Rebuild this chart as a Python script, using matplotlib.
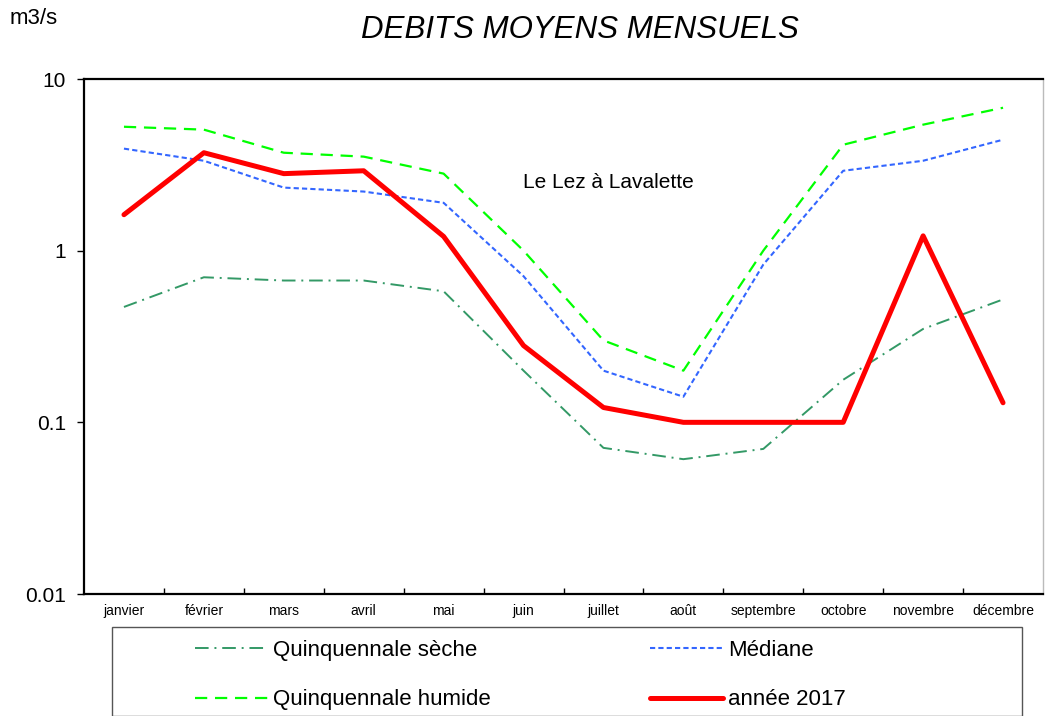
import matplotlib
matplotlib.use('Agg')
import matplotlib.pyplot as plt
from matplotlib.patches import Rectangle

plt.rcParams['font.family'] = ['Liberation Sans', 'DejaVu Sans']

mois = ['janvier', 'février', 'mars', 'avril', 'mai', 'juin', 'juillet',
        'août', 'septembre', 'octobre', 'novembre', 'décembre']

# debits en m3/s
seche = [0.47, 0.70, 0.67, 0.67, 0.58, 0.20, 0.071, 0.061, 0.07, 0.177, 0.35, 0.52]
mediane = [3.93, 3.34, 2.33, 2.21, 1.90, 0.71, 0.20, 0.141, 0.83, 2.92, 3.34, 4.43]
humide = [5.27, 5.07, 3.72, 3.53, 2.81, 1.00, 0.30, 0.20, 1.00, 4.14, 5.42, 6.80]
annee_2017 = [1.62, 3.72, 2.81, 2.92, 1.21, 0.28, 0.122, 0.10, 0.10, 0.10, 1.22, 0.13]

y_ticks = [0.01, 0.1, 1, 10]
y_labels = ['0.01', '0.1', '1', '10']

fig = plt.figure(figsize=(10.45, 7.16), dpi=100)
ax = fig.add_axes([84 / 1045, 1 - 594 / 716, (1043 - 84) / 1045, (594 - 79) / 716])

x = range(len(mois))
l_seche, = ax.plot(x, seche, color='#339966', lw=1.4, dashes=(7, 3, 1, 3),
                   label='Quinquennale sèche')
l_med, = ax.plot(x, mediane, color='#3366FF', lw=1.5, dashes=(2.5, 1.5),
                 label='Médiane')
l_hum, = ax.plot(x, humide, color='#00FF00', lw=1.6, dashes=(5.5, 3.5),
                 label='Quinquennale humide')
l_2017, = ax.plot(x, annee_2017, color='#FF0000', lw=3.6,
                  solid_capstyle='round', solid_joinstyle='round', label='année 2017')

ax.set_yscale('log')
ax.set_ylim(0.01, 10)
ax.set_xlim(-0.5, len(mois) - 0.5)
ax.set_yticks(y_ticks)
ax.set_yticklabels(y_labels, fontsize=15)
ax.yaxis.set_minor_locator(plt.NullLocator())
ax.tick_params(axis='y', length=5, width=1, direction='out', pad=8)

ax.set_xticks(list(x))
ax.set_xticklabels(mois, fontsize=10)
ax.set_xticks([i + 0.5 for i in range(len(mois) - 1)], minor=True)
ax.tick_params(axis='x', which='major', length=0, pad=7)
ax.tick_params(axis='x', which='minor', length=4, width=1, direction='in')

for s in ['left', 'bottom', 'top']:
    ax.spines[s].set_linewidth(1.6)
    ax.spines[s].set_color('black')
ax.spines['right'].set_color('#BBBBBB')
ax.spines['right'].set_linewidth(1)

fig.text(580 / 1045, 1 - 30 / 716, 'DEBITS MOYENS MENSUELS',
         ha='center', va='center', fontsize=22.5, style='italic')
fig.text(10 / 1045, 1 - 19 / 716, 'm3/s', ha='left', va='center', fontsize=16)
fig.text(608 / 1045, 1 - 182 / 716, 'Le Lez à Lavalette',
         ha='center', va='center', fontsize=15)

# cadre de la legende
fig.patches.append(Rectangle((112 / 1045, 0), 910 / 1045, (716 - 627) / 716,
                             transform=fig.transFigure, fill=False,
                             edgecolor='#555555', lw=1))
leg_opts = dict(loc='center left', frameon=False, fontsize=16,
                handlelength=3.3, handletextpad=0.2, labelspacing=1.3)
fig.legend(handles=[l_seche, l_hum], bbox_to_anchor=(175 / 1045, 1 - 675 / 716), **leg_opts)
fig.legend(handles=[l_med, l_2017], bbox_to_anchor=(630 / 1045, 1 - 675 / 716), **leg_opts)

fig.savefig('out.png', dpi=100)
